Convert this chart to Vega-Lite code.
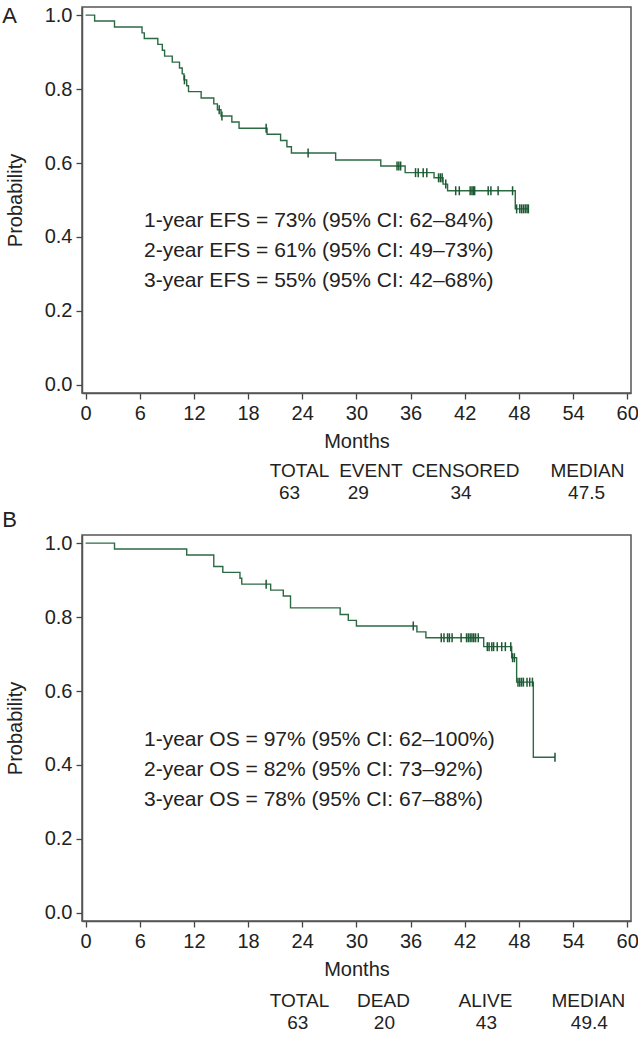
{
  "$schema": "https://vega.github.io/schema/vega-lite/v6.json",
  "padding": {"left": 1, "top": 4, "right": 0, "bottom": 0},
  "bounds": "flush",
  "spacing": 142,
  "config": {
    "font": "Liberation Sans",
    "view": {"stroke": "#555555", "strokeWidth": 1.5},
    "axis": {
      "grid": false,
      "domainColor": "#555555",
      "domainWidth": 1.5,
      "tickColor": "#444444",
      "tickWidth": 1.3,
      "tickSize": 6,
      "labelFont": "Liberation Sans",
      "labelFontSize": 20,
      "labelColor": "#222222",
      "labelPadding": 4,
      "titleFont": "Liberation Sans",
      "titleFontSize": 20,
      "titleFontWeight": "normal",
      "titleColor": "#222222"
    },
    "text": {"font": "Liberation Sans", "fontSize": 19, "color": "#222222"}
  },
  "datasets": {
    "efs": [
      {"t": 0, "s": 1.0}, {"t": 1.0, "s": 0.984}, {"t": 3.2, "s": 0.968}, {"t": 6.25, "s": 0.952},
      {"t": 6.5, "s": 0.937}, {"t": 8.0, "s": 0.921}, {"t": 8.5, "s": 0.905}, {"t": 8.75, "s": 0.889},
      {"t": 9.6, "s": 0.873}, {"t": 10.4, "s": 0.857}, {"t": 10.7, "s": 0.841}, {"t": 10.9, "s": 0.825},
      {"t": 11.2, "s": 0.809}, {"t": 11.4, "s": 0.793}, {"t": 12.8, "s": 0.776}, {"t": 14.2, "s": 0.76},
      {"t": 14.6, "s": 0.744}, {"t": 15.0, "s": 0.727}, {"t": 16.2, "s": 0.711}, {"t": 17.0, "s": 0.694},
      {"t": 20.1, "s": 0.678}, {"t": 21.6, "s": 0.661}, {"t": 22.3, "s": 0.644}, {"t": 22.8, "s": 0.627},
      {"t": 27.7, "s": 0.608}, {"t": 32.7, "s": 0.592}, {"t": 35.4, "s": 0.574}, {"t": 38.6, "s": 0.56},
      {"t": 39.6, "s": 0.543}, {"t": 40.1, "s": 0.525}, {"t": 47.6, "s": 0.476}, {"t": 49.05, "s": 0.476}
    ],
    "efs_cens": [
      {"t": 10.95, "s": 0.825}, {"t": 14.8, "s": 0.744}, {"t": 15.1, "s": 0.727}, {"t": 20.0, "s": 0.694},
      {"t": 24.65, "s": 0.627}, {"t": 34.5, "s": 0.592}, {"t": 34.7, "s": 0.592}, {"t": 34.9, "s": 0.592},
      {"t": 36.55, "s": 0.574}, {"t": 36.85, "s": 0.574}, {"t": 37.4, "s": 0.574}, {"t": 37.8, "s": 0.574},
      {"t": 39.1, "s": 0.56}, {"t": 39.3, "s": 0.56}, {"t": 39.5, "s": 0.56}, {"t": 39.9, "s": 0.543},
      {"t": 41.0, "s": 0.525}, {"t": 41.4, "s": 0.525}, {"t": 42.6, "s": 0.525}, {"t": 42.8, "s": 0.525},
      {"t": 42.95, "s": 0.525}, {"t": 43.1, "s": 0.525}, {"t": 44.6, "s": 0.525}, {"t": 44.9, "s": 0.525},
      {"t": 45.7, "s": 0.525}, {"t": 47.3, "s": 0.525}, {"t": 47.75, "s": 0.476}, {"t": 48.1, "s": 0.476},
      {"t": 48.3, "s": 0.476}, {"t": 48.5, "s": 0.476}, {"t": 48.7, "s": 0.476}, {"t": 48.9, "s": 0.476},
      {"t": 49.05, "s": 0.476}
    ],
    "efs_note": [
      {"t": 6.47, "s": 0.4435, "label": "1-year EFS = 73% (95% CI: 62–84%)"},
      {"t": 6.47, "s": 0.362, "label": "2-year EFS = 61% (95% CI: 49–73%)"},
      {"t": 6.47, "s": 0.281, "label": "3-year EFS = 55% (95% CI: 42–68%)"}
    ],
    "efs_stats": [
      {"t": 23.7, "s": -0.233, "label": "TOTAL"}, {"t": 31.6, "s": -0.233, "label": "EVENT"},
      {"t": 42.1, "s": -0.233, "label": "CENSORED"}, {"t": 55.6, "s": -0.233, "label": "MEDIAN"},
      {"t": 22.6, "s": -0.292, "label": "63"}, {"t": 30.2, "s": -0.292, "label": "29"},
      {"t": 41.6, "s": -0.292, "label": "34"}, {"t": 55.5, "s": -0.292, "label": "47.5"}
    ],
    "efs_tag": [{"t": -9.24, "s": 0.997, "label": "A"}],
    "os": [
      {"t": 0, "s": 1.0}, {"t": 3.2, "s": 0.984}, {"t": 11.2, "s": 0.968}, {"t": 14.2, "s": 0.937},
      {"t": 15.2, "s": 0.921}, {"t": 17.1, "s": 0.905}, {"t": 17.3, "s": 0.889}, {"t": 20.5, "s": 0.873},
      {"t": 21.9, "s": 0.857}, {"t": 22.7, "s": 0.825}, {"t": 28.2, "s": 0.807}, {"t": 29.1, "s": 0.791},
      {"t": 30.0, "s": 0.776}, {"t": 36.7, "s": 0.76}, {"t": 37.7, "s": 0.744}, {"t": 44.1, "s": 0.72},
      {"t": 47.2, "s": 0.69}, {"t": 47.75, "s": 0.624}, {"t": 49.6, "s": 0.421}, {"t": 52.0, "s": 0.421}
    ],
    "os_cens": [
      {"t": 20.0, "s": 0.889}, {"t": 36.3, "s": 0.776}, {"t": 39.4, "s": 0.744}, {"t": 39.7, "s": 0.744},
      {"t": 40.1, "s": 0.744}, {"t": 40.3, "s": 0.744}, {"t": 40.6, "s": 0.744}, {"t": 41.6, "s": 0.744},
      {"t": 42.2, "s": 0.744}, {"t": 42.4, "s": 0.744}, {"t": 42.6, "s": 0.744}, {"t": 42.8, "s": 0.744},
      {"t": 43.0, "s": 0.744}, {"t": 43.2, "s": 0.744}, {"t": 43.5, "s": 0.744}, {"t": 44.5, "s": 0.72},
      {"t": 44.7, "s": 0.72}, {"t": 45.0, "s": 0.72}, {"t": 45.2, "s": 0.72}, {"t": 45.6, "s": 0.72},
      {"t": 46.1, "s": 0.72}, {"t": 46.5, "s": 0.72}, {"t": 47.1, "s": 0.72}, {"t": 47.3, "s": 0.69},
      {"t": 47.5, "s": 0.69}, {"t": 47.9, "s": 0.624}, {"t": 48.1, "s": 0.624}, {"t": 48.3, "s": 0.624},
      {"t": 48.5, "s": 0.624}, {"t": 48.9, "s": 0.624}, {"t": 49.2, "s": 0.624}, {"t": 49.5, "s": 0.624},
      {"t": 52.0, "s": 0.421}
    ],
    "os_note": [
      {"t": 6.47, "s": 0.468, "label": "1-year OS = 97% (95% CI: 62–100%)"},
      {"t": 6.47, "s": 0.387, "label": "2-year OS = 82% (95% CI: 73–92%)"},
      {"t": 6.47, "s": 0.306, "label": "3-year OS = 78% (95% CI: 67–88%)"}
    ],
    "os_stats": [
      {"t": 23.7, "s": -0.239, "label": "TOTAL"}, {"t": 33.0, "s": -0.239, "label": "DEAD"},
      {"t": 44.3, "s": -0.239, "label": "ALIVE"}, {"t": 55.7, "s": -0.239, "label": "MEDIAN"},
      {"t": 23.5, "s": -0.298, "label": "63"}, {"t": 33.1, "s": -0.298, "label": "20"},
      {"t": 44.4, "s": -0.298, "label": "43"}, {"t": 55.8, "s": -0.298, "label": "49.4"}
    ],
    "os_tag": [{"t": -9.24, "s": 1.063, "label": "B"}]
  },
  "vconcat": [
    {
      "width": 549,
      "height": 386,
      "layer": [
        {
          "data": {"name": "efs"},
          "mark": {"type": "line", "interpolate": "step-after", "color": "#2c6a44", "strokeWidth": 1.4},
          "encoding": {
            "x": {"field": "t", "type": "quantitative",
              "scale": {"domain": [-0.4, 60.42], "nice": false, "zero": false},
              "axis": {"values": [0, 6, 12, 18, 24, 30, 36, 42, 48, 54, 60], "title": "Months", "titleY": 48, "titleBaseline": "middle"}},
            "y": {"field": "s", "type": "quantitative",
              "scale": {"domain": [-0.022, 1.022], "nice": false, "zero": false},
              "axis": {"values": [0, 0.2, 0.4, 0.6, 0.8, 1.0], "format": ".1f", "title": "Probability", "titleX": -67, "titleY": 193, "titleBaseline": "middle"}}
          }
        },
        {
          "data": {"name": "efs_cens"},
          "mark": {"type": "tick", "orient": "vertical", "color": "#1c5832", "thickness": 1.5, "size": 9, "opacity": 1},
          "encoding": {"x": {"field": "t", "type": "quantitative"}, "y": {"field": "s", "type": "quantitative"}}
        },
        {
          "data": {"name": "efs_note"},
          "mark": {"type": "text", "align": "left", "baseline": "middle", "fontSize": 21},
          "encoding": {"x": {"field": "t", "type": "quantitative"}, "y": {"field": "s", "type": "quantitative"}, "text": {"field": "label"}}
        },
        {
          "data": {"name": "efs_stats"},
          "mark": {"type": "text", "align": "center", "baseline": "middle"},
          "encoding": {"x": {"field": "t", "type": "quantitative"}, "y": {"field": "s", "type": "quantitative"}, "text": {"field": "label"}}
        },
        {
          "data": {"name": "efs_tag"},
          "mark": {"type": "text", "align": "left", "baseline": "middle", "fontSize": 22},
          "encoding": {"x": {"field": "t", "type": "quantitative"}, "y": {"field": "s", "type": "quantitative"}, "text": {"field": "label"}}
        }
      ]
    },
    {
      "width": 549,
      "height": 386,
      "layer": [
        {
          "data": {"name": "os"},
          "mark": {"type": "line", "interpolate": "step-after", "color": "#2c6a44", "strokeWidth": 1.4},
          "encoding": {
            "x": {"field": "t", "type": "quantitative",
              "scale": {"domain": [-0.4, 60.42], "nice": false, "zero": false},
              "axis": {"values": [0, 6, 12, 18, 24, 30, 36, 42, 48, 54, 60], "title": "Months", "titleY": 48, "titleBaseline": "middle"}},
            "y": {"field": "s", "type": "quantitative",
              "scale": {"domain": [-0.022, 1.022], "nice": false, "zero": false},
              "axis": {"values": [0, 0.2, 0.4, 0.6, 0.8, 1.0], "format": ".1f", "title": "Probability", "titleX": -67, "titleY": 193, "titleBaseline": "middle"}}
          }
        },
        {
          "data": {"name": "os_cens"},
          "mark": {"type": "tick", "orient": "vertical", "color": "#1c5832", "thickness": 1.5, "size": 9, "opacity": 1},
          "encoding": {"x": {"field": "t", "type": "quantitative"}, "y": {"field": "s", "type": "quantitative"}}
        },
        {
          "data": {"name": "os_note"},
          "mark": {"type": "text", "align": "left", "baseline": "middle", "fontSize": 21},
          "encoding": {"x": {"field": "t", "type": "quantitative"}, "y": {"field": "s", "type": "quantitative"}, "text": {"field": "label"}}
        },
        {
          "data": {"name": "os_stats"},
          "mark": {"type": "text", "align": "center", "baseline": "middle"},
          "encoding": {"x": {"field": "t", "type": "quantitative"}, "y": {"field": "s", "type": "quantitative"}, "text": {"field": "label"}}
        },
        {
          "data": {"name": "os_tag"},
          "mark": {"type": "text", "align": "left", "baseline": "middle", "fontSize": 22},
          "encoding": {"x": {"field": "t", "type": "quantitative"}, "y": {"field": "s", "type": "quantitative"}, "text": {"field": "label"}}
        }
      ]
    }
  ]
}
